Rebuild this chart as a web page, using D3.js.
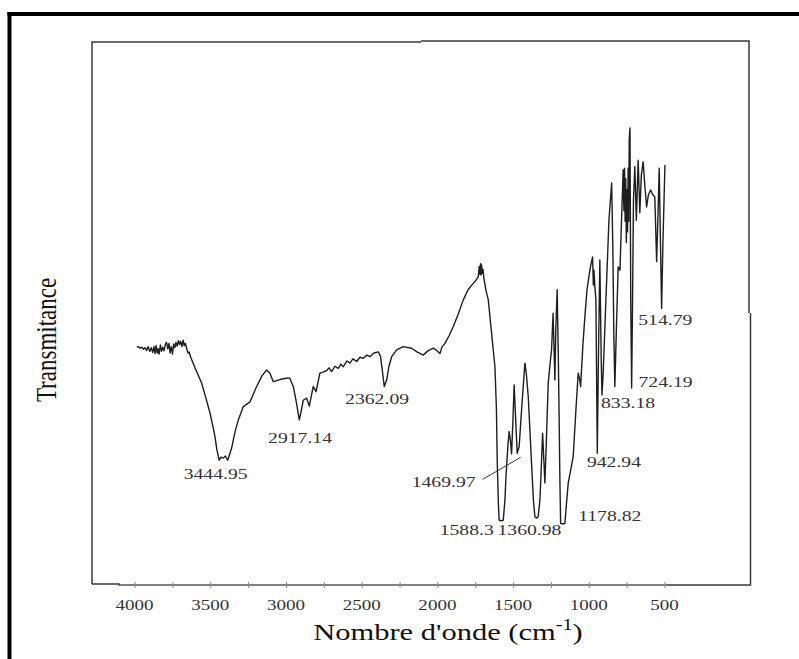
<!DOCTYPE html>
<html><head><meta charset="utf-8">
<script src="https://cdn.jsdelivr.net/npm/d3@7"></script>
<style>body{margin:0;background:#fff;} svg{display:block;}</style>
</head><body>
<svg id="c" width="799" height="659"></svg>
<script>
// ---- DATA ----
const wavenumber = [3986,3975,3964,3952,3941,3931,3920,3910,3900,3890,3880,3872,3865,3858,3851,3845,3838,3830,3822,3815,3806,3797,3789,3781,3773,3766,3758,3750,3742,3734,3727,3719,3711,3703,3695,3687,3679,3672,3664,3656,3647,3640,3628,3601,3581,3557,3529,3502,3482,3469,3456,3441,3429,3414,3400,3385,3359,3337,3315,3282,3238,3194,3159,3128,3106,3084,3051,3027,2987,2974,2952,2934,2912,2901,2886,2864,2846,2820,2802,2776,2756,2731,2716,2698,2677,2655,2637,2622,2597,2578,2558,2533,2512,2490,2465,2446,2419,2391,2376,2366,2351,2335,2320,2302,2269,2226,2170,2135,2094,2063,2028,2010,1983,1970,1950,1924,1895,1864,1829,1798,1763,1745,1730,1724,1719,1715,1712,1708,1704,1699,1693,1680,1664,1642,1620,1610,1605,1597,1592,1578,1565,1554,1547,1534,1526,1518,1510,1501,1493,1483,1473,1460,1444,1422,1412,1400,1389,1378,1366,1356,1345,1334,1323,1318,1305,1290,1280,1268,1257,1246,1236,1231,1224,1218,1209,1202,1196,1191,1186,1171,1158,1148,1136,1103,1085,1070,1062,1054,1039,1026,1012,993,985,975,970,966,960,953,944,936,927,918,913,905,887,867,849,841,835,828,818,806,794,788,773,768,764,760,756,752,748,744,740,736,733,728,723,717,711,705,696,686,674,663,653,641,630,618,607,592,577,564,552,544,535,527,519,510,497];
const transmittance = [46.3,46.4,46.1,46.3,45.9,46.2,45.7,46.4,45.5,46.2,45.3,46.4,45.1,46.6,45.2,46.0,45.0,46.7,45.5,46.3,45.6,46.8,47.2,46.0,47.0,45.2,46.4,45.0,46.9,46.2,47.2,46.5,47.5,46.8,47.4,46.4,47.6,46.6,47.0,46.0,45.2,45.4,44.3,42.4,41.1,39.5,36.7,33.9,31.3,29.4,26.9,25.0,25.6,25.4,25.8,25.0,27.3,30.3,32.6,35.1,36.0,38.9,40.9,42.0,41.4,39.8,40.1,40.3,40.5,40.4,38.9,36.3,32.6,34.1,36.3,36.7,35.2,38.9,37.9,41.4,41.6,41.9,42.4,41.7,42.7,42.3,43.1,42.6,43.7,43.3,44.1,43.6,44.4,44.2,44.8,44.5,45.2,45.4,44.6,42.4,38.9,40.1,42.7,44.5,45.8,46.4,46.1,45.4,44.8,45.6,46.1,45.8,45.1,46.3,47.0,48.4,50.2,52.4,55.2,57.1,58.3,58.9,59.6,61.5,60.0,62.0,59.9,61.8,60.2,61.0,59.3,57.1,55.2,48.9,42.6,34.5,25.0,16.6,13.7,13.6,13.7,17.5,21.9,27.9,30.4,28.8,26.2,32.6,39.2,32.6,26.3,27.6,34.5,43.3,41.1,37.0,30.7,24.4,17.5,14.4,14.1,14.4,17.5,20.7,30.1,20.7,28.8,39.5,42.9,45.8,52.7,47.6,40.1,49.5,57.1,45.8,33.2,21.3,13.1,13.0,13.1,16.6,20.7,25.7,34.5,41.4,40.5,38.9,46.7,52.0,57.1,60.8,62.0,63.3,58.0,60.8,57.7,55.2,26.3,45.0,62.7,44.0,37.3,41.4,55.2,70.2,77.2,64.6,49.5,38.9,49.5,61.4,60.8,66.5,79.7,72.0,80.0,70.0,78.0,66.0,76.0,68.0,80.0,70.0,85.3,87.6,55.2,38.6,55.2,74.0,80.3,70.2,81.5,71.6,78.7,81.2,76.8,72.7,74.9,75.9,75.0,74.6,62.4,70.2,80.0,66.5,53.6,66.5,80.6];

const xTickValues = [4000,3500,3000,2500,2000,1500,1000,500];
const xTickLabels = ["4000","3500","3000","2500","2000","1500","1000","500"];
const xMinorTicks = [3750,3250,2750,2250,1750,1250,750];

const peakWavenumbers = [3444.95,2917.14,2362.09,1588.3,1469.97,1360.98,1178.82,942.94,833.18,724.19,514.79];
const peakTransmittance = [25.0,32.6,38.9,13.6,26.3,14.1,13.0,26.3,38.9,38.6,53.6];
const peakLabels = ["3444.95","2917.14","2362.09","1588.3","1469.97","1360.98","1178.82","942.94","833.18","724.19","514.79"];

const xTitle = "Nombre d'onde (cm";
const xTitleSup = "-1";
const yTitle = "Transmitance";

// ---- LAYOUT ----
const svg = d3.select("#c");
const STRETCH = 1.27;
const x = d3.scaleLinear().domain([4000,500]).range([134.6,664.5]);
const y = d3.scaleLinear().domain([0,100]).range([593,62]);
const serif = "'Liberation Serif','Times New Roman',serif";

// label offsets [dx of centre, dy of baseline] relative to the peak point
const labelOffsets = [[-3,19],[1.5,23],[-5.5,17.5],[-33,14],[-74,34],[-4.7,17],[48,-3],[16.5,14],[14,22],[35,-1],[3,17]];

// outer frame
svg.append("line").attr("x1",7.5).attr("x2",799).attr("y1",14).attr("y2",14)
  .attr("stroke","#000").attr("stroke-width",4);
svg.append("line").attr("x1",9.5).attr("x2",9.5).attr("y1",12).attr("y2",659)
  .attr("stroke","#000").attr("stroke-width",4);

// plot box
svg.append("path")
  .attr("d","M92,584V42H421M421,41H749V313M750.5,313V585H119V584H92")
  .attr("fill","none").attr("stroke","#3a3a3a").attr("stroke-width",1.5);

// x axis ticks
const axis = d3.axisBottom(x).tickValues(xTickValues.concat(xMinorTicks))
  .tickSize(3).tickFormat("");
const gAx = svg.append("g").attr("transform","translate(0,585)").call(axis);
gAx.select(".domain").remove();
gAx.selectAll(".tick line").attr("y1",-3).attr("y2",3).attr("stroke","#888").attr("stroke-width",1);
svg.append("line").attr("x1",x(4100)).attr("x2",x(490)).attr("y1",585).attr("y2",585)
  .attr("stroke","#8a8a8a").attr("stroke-width",1.5);

// tick labels
svg.append("g").selectAll("text").data(xTickValues).join("text")
  .attr("transform",(d)=>`translate(${x(d)},610) scale(${STRETCH},1)`)
  .attr("text-anchor","middle")
  .attr("font-family",serif).attr("font-size",15).attr("fill","#333")
  .text((d,i)=>xTickLabels[i]);

// axis titles
const tx = svg.append("text")
  .attr("transform",`translate(448,640) scale(${STRETCH},1)`)
  .attr("text-anchor","middle").attr("font-family",serif).attr("font-size",24).attr("fill","#111");
tx.append("tspan").text(xTitle);
tx.append("tspan").attr("font-size",16).attr("dy",-10).text(xTitleSup);
tx.append("tspan").attr("dy",10).text(")");

svg.append("text")
  .attr("transform",`translate(56,340) scale(${STRETCH},1) rotate(-90)`)
  .attr("text-anchor","middle").attr("font-family",serif).attr("font-size",23).attr("fill","#111")
  .text(yTitle);

// spectrum
const pts = wavenumber.map((w,i)=>[w,transmittance[i]]);
svg.append("path").datum(pts)
  .attr("d", d3.line().x(d=>x(d[0])).y(d=>y(d[1])))
  .attr("fill","none").attr("stroke","#1e1e1e").attr("stroke-width",1.4)
  .attr("stroke-linejoin","round");

// peak labels
const gl = svg.append("g");
peakWavenumbers.forEach((w,i)=>{
  const px = x(w), py = y(peakTransmittance[i]);
  const [dx,dy] = labelOffsets[i];
  gl.append("text")
    .attr("transform",`translate(${px+dx},${py+dy}) scale(${STRETCH},1)`)
    .attr("text-anchor","middle").attr("font-family",serif).attr("font-size",15.5).attr("fill","#333")
    .text(peakLabels[i]);
});
// leader line for 1469.97
{
  const i = peakLabels.indexOf("1469.97");
  const px = x(peakWavenumbers[i]), py = y(peakTransmittance[i]);
  svg.append("line").attr("x1",px-35).attr("y1",py+26).attr("x2",px+3).attr("y2",py+4)
    .attr("stroke","#333").attr("stroke-width",1);
}
</script>
</body></html>
